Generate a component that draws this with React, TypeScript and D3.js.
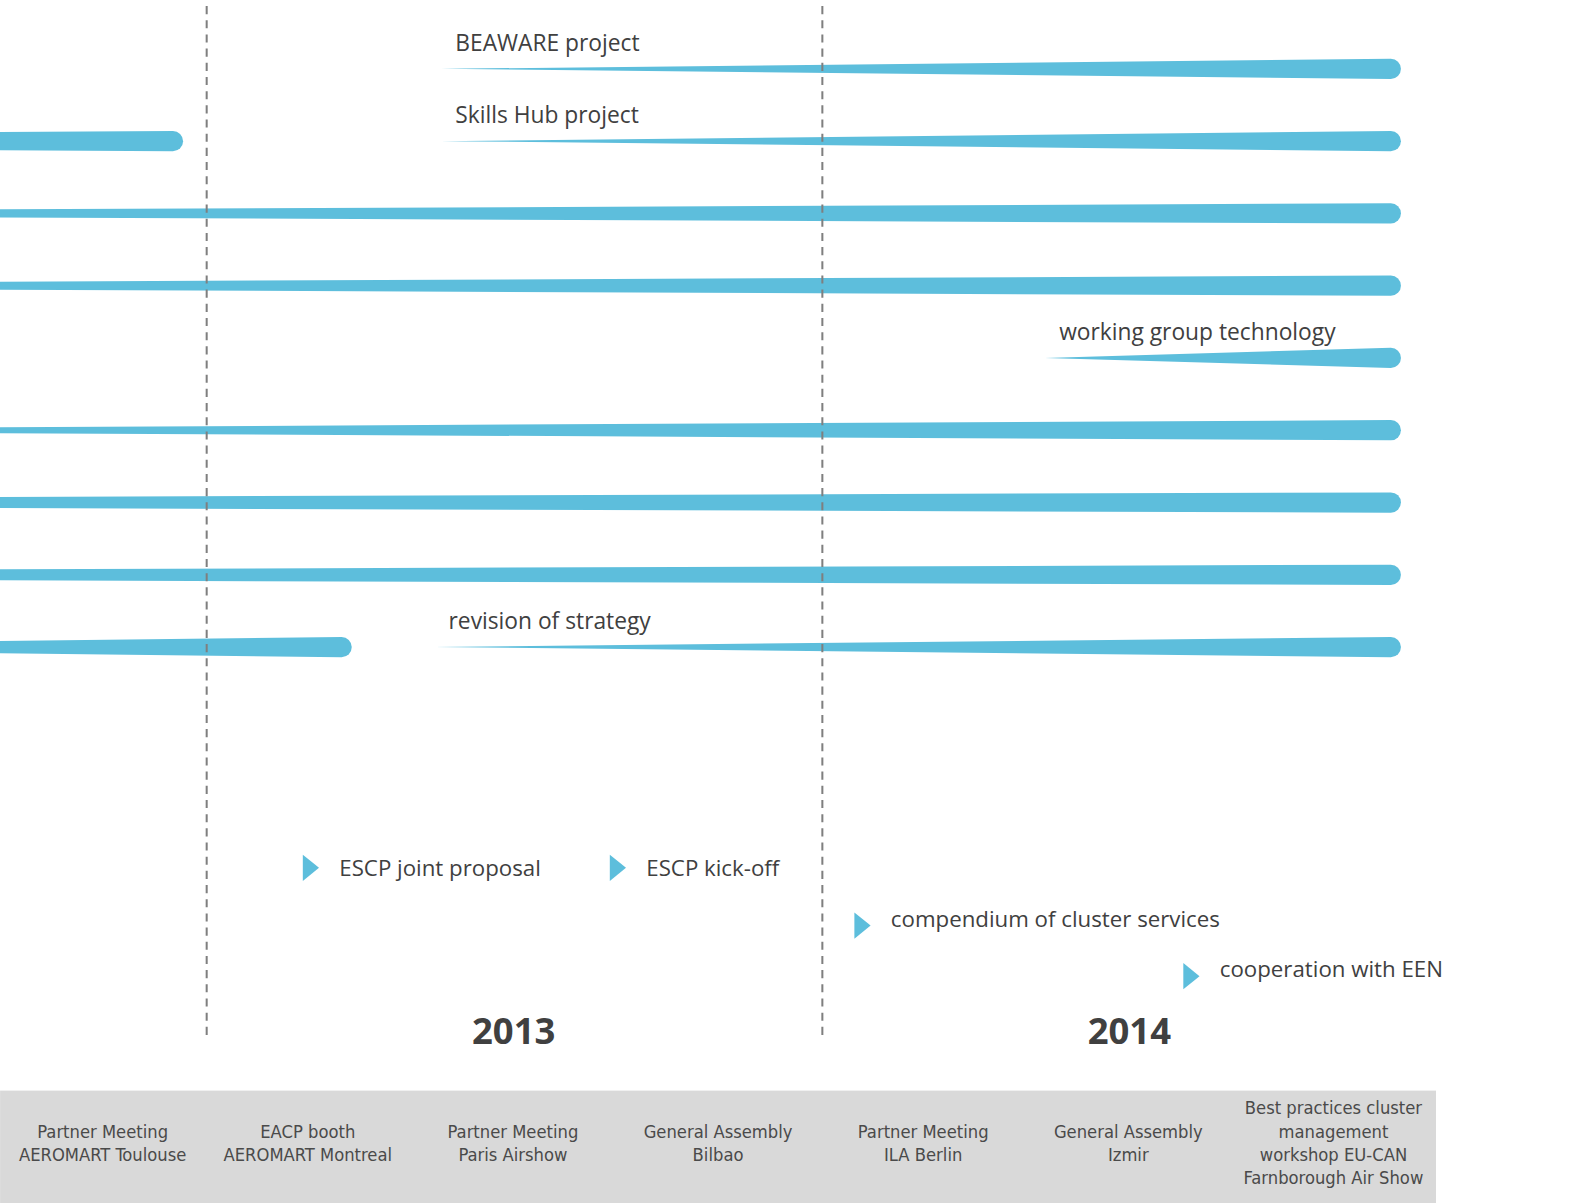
import { useRef, useEffect } from 'react'
import * as d3 from 'd3'

// timeline rows (top to bottom); rows without a label have theirs outside the visible area
const rowIds = ['r1', 'r2', 'r3', 'r4', 'r5', 'r6', 'r7', 'r8', 'r9']

const barRows = ['r1', 'r2', 'r2', 'r3', 'r4', 'r5', 'r6', 'r7', 'r8', 'r9', 'r9']
const barStarts = [
  '2013-05-20', '2010-02-18', '2013-05-20', '2011-02-27', '2011-02-27', '2014-05-13',
  '2011-09-11', '2009-11-25', '2009-11-25', '2011-11-01', '2013-05-16',
]
const barEnds = [
  '2014-12-04', '2012-12-12', '2014-12-04', '2014-12-04', '2014-12-04', '2014-12-04',
  '2014-12-04', '2014-12-04', '2014-12-04', '2013-03-22', '2014-12-04',
]
const barLabels = [
  'BEAWARE project', '', 'Skills Hub project', '', '', 'working group technology',
  '', '', '', '', 'revision of strategy',
]

const milestoneLabels = ['ESCP joint proposal', 'ESCP kick-off', 'compendium of cluster services', 'cooperation with EEN']
const milestoneDates = ['2013-02-27', '2013-08-28', '2014-01-20', '2014-08-03']
const milestoneLanes = [0, 0, 1, 2]

const years = [2013, 2014]

const eventLabels = [
  ['Partner Meeting', 'AEROMART Toulouse'],
  ['EACP booth', 'AEROMART Montreal'],
  ['Partner Meeting', 'Paris Airshow'],
  ['General Assembly', 'Bilbao'],
  ['Partner Meeting', 'ILA Berlin'],
  ['General Assembly', 'Izmir'],
  ['Best practices cluster', 'management', 'workshop EU-CAN', 'Farnborough Air Show'],
]

const BLUE = '#5dbedc'
const TEXT = '#404040'
const FONT = '"Open Sans", "Noto Sans", sans-serif'
const NARROW = '"Liberation Sans Narrow", "DejaVu Sans Condensed", "Roboto", sans-serif'

export default function App() {
  const svgRef = useRef<SVGSVGElement>(null)

  useEffect(() => {
    if (!svgRef.current) return
    document.body.style.margin = '0'
    document.body.style.overflow = 'hidden'
    // drawing units are a little smaller than the page pixels
    const VW = 1568
    const VH = 1188
    const svg = d3.select(svgRef.current)
    svg.selectAll('*').remove()
    svg.attr('width', 1588).attr('height', 1203).attr('viewBox', `0 0 ${VW} ${VH}`)

    const parse = d3.utcParse('%Y-%m-%d')
    const x = d3
      .scaleUtc()
      .domain([new Date(Date.UTC(2013, 0, 1)), new Date(Date.UTC(2014, 0, 1))])
      .range([204, 812])
    const y = d3.scalePoint<string>().domain(rowIds).range([68, 639])
    const laneY = d3.scaleLinear().domain([0, 2]).range([857, 957])
    const band = d3
      .scaleBand<number>()
      .domain(eventLabels.map((_, i) => i))
      .range([0, 1418])

    const bars = barRows.map((r, i) => ({
      row: r,
      start: parse(barStarts[i])!,
      end: parse(barEnds[i])!,
      label: barLabels[i],
    }))

    const half = 10
    const barPath = (d: (typeof bars)[number]) => {
      const xs = x(d.start)
      const xe = x(d.end)
      const cy = y(d.row)!
      return `M${xs},${cy}L${xe},${cy - half}A${half},${half} 0 0 1 ${xe},${cy + half}Z`
    }

    // tapered bars
    svg
      .append('g')
      .selectAll('path')
      .data(bars)
      .join('path')
      .attr('d', barPath)
      .attr('fill', BLUE)

    // bar labels
    svg
      .append('g')
      .selectAll('text')
      .data(bars.filter((d) => d.label))
      .join('text')
      .attr('x', (d) => x(d.start) + 14)
      .attr('y', (d) => y(d.row)! - 18)
      .attr('fill', TEXT)
      .attr('font-family', FONT)
      .attr('font-size', 22.5)
      .text((d) => d.label)

    // year boundaries
    svg
      .append('g')
      .selectAll('line')
      .data(years)
      .join('line')
      .attr('x1', (d) => x(new Date(Date.UTC(d, 0, 1))))
      .attr('x2', (d) => x(new Date(Date.UTC(d, 0, 1))))
      .attr('y1', 6)
      .attr('y2', 1022)
      .attr('stroke', '#7f7f7f')
      .attr('stroke-width', 2)
      .attr('stroke-dasharray', '8,6')

    // year labels
    svg
      .append('g')
      .selectAll('text')
      .data(years)
      .join('text')
      .attr('x', (d) => x(new Date(Date.UTC(d, 6, 2))))
      .attr('y', 1031)
      .attr('text-anchor', 'middle')
      .attr('fill', TEXT)
      .attr('font-family', FONT)
      .attr('font-weight', 700)
      .attr('font-size', 36)
      .text((d) => d)

    // milestones
    const ms = milestoneLabels.map((label, i) => ({
      label,
      date: parse(milestoneDates[i])!,
      lane: milestoneLanes[i],
    }))
    const mg = svg
      .append('g')
      .selectAll('g')
      .data(ms)
      .join('g')
      .attr('transform', (d) => `translate(${x(d.date)},${laneY(d.lane)})`)
    mg.append('path')
      .attr('d', (d) => {
        const dy = d.lane > 0 ? 7 : 0
        return `M0,${dy - 13}L16,${dy}L0,${dy + 13}Z`
      })
      .attr('fill', BLUE)
    mg.append('text')
      .attr('x', 36)
      .attr('y', 8)
      .attr('fill', TEXT)
      .attr('font-family', FONT)
      .attr('font-size', 22)
      .text((d) => d.label)

    // event band
    svg
      .append('rect')
      .attr('x', band.range()[0])
      .attr('y', 1077)
      .attr('width', band.range()[1] - band.range()[0])
      .attr('height', 111)
      .attr('fill', '#d9d9d9')

    const lineH = 23
    svg
      .append('g')
      .selectAll('text')
      .data(eventLabels.map((lines, i) => ({ lines, i })))
      .join('text')
      .attr('x', (d) => band(d.i)! + band.bandwidth() / 2)
      .attr('y', (d) => 1129 - ((d.lines.length - 1) * lineH) / 2 + 6)
      .attr('text-anchor', 'middle')
      .attr('fill', '#4a4a4a')
      .attr('font-family', NARROW)
      .attr('font-size', 18)
      .selectAll('tspan')
      .data((d) => d.lines.map((t, k) => ({ t, k, cx: band(d.i)! + band.bandwidth() / 2 })))
      .join('tspan')
      .attr('x', (d) => d.cx)
      .attr('dy', (d) => (d.k === 0 ? 0 : lineH))
      .text((d) => d.t)

    return () => {
      svg.selectAll('*').remove()
    }
  }, [])

  return (
    <div style={{ position: 'fixed', left: 0, top: 0, width: 1588, height: 1203, overflow: 'hidden', background: '#fff' }}>
      <svg ref={svgRef} style={{ display: 'block' }} />
    </div>
  )
}
